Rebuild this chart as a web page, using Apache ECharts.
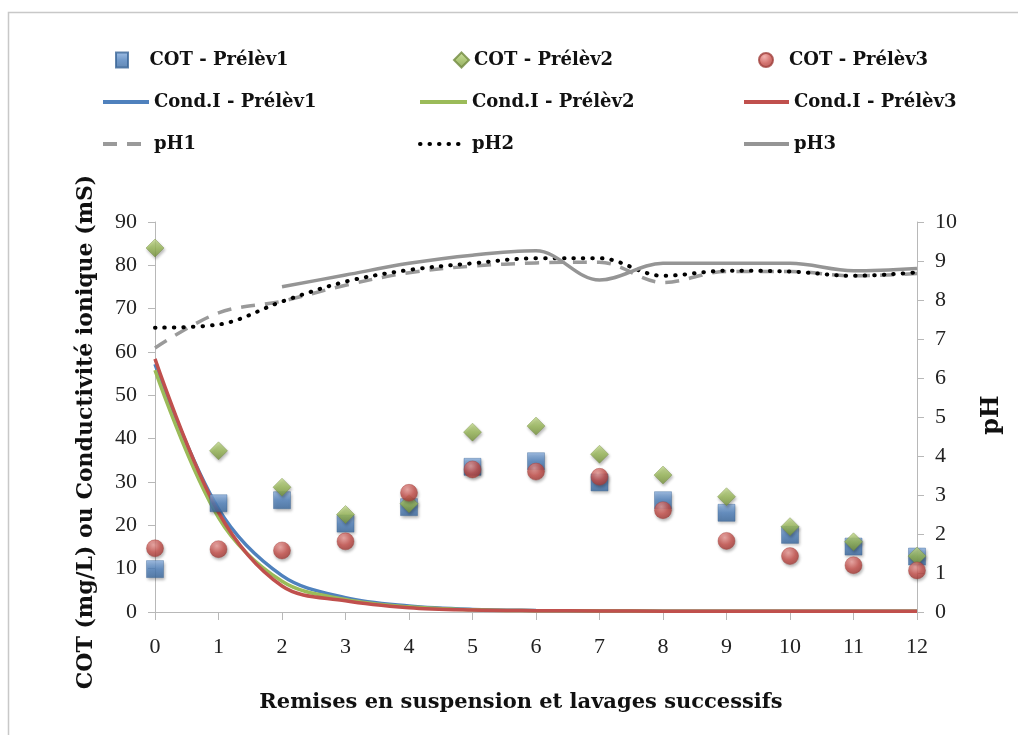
<!DOCTYPE html>
<html><head><meta charset="utf-8">
<script src="https://cdn.jsdelivr.net/npm/echarts@6/dist/echarts.min.js"></script>
<style>html,body{margin:0;padding:0;background:#fff}#c{width:1018px;height:735px}</style>
</head><body><div id="c"></div>
<script>
const xs = [0,1,2,3,4,5,6,7,8,9,10,11,12];
const cot1 = [9.9,25.1,25.8,20.4,24.2,33.5,34.8,29.9,25.8,22.9,17.8,15.1,12.8];
const cot2 = [84,37.2,28.8,22.5,25.0,41.5,42.9,36.4,31.6,26.6,19.7,16.2,12.9];
const cot3 = [14.7,14.5,14.2,16.3,27.5,32.9,32.4,31.2,23.5,16.4,12.9,10.8,9.6];
const cond1 = [57.2,23.8,8.4,3.3,1.4,0.6,0.35,0.25,0.2,0.2,0.2,0.2,0.2];
const cond2 = [55.8,21.8,7.1,2.9,1.2,0.5,0.3,0.25,0.2,0.2,0.2,0.2,0.2];
const cond3 = [58.4,23.0,6.0,2.6,1.0,0.45,0.3,0.25,0.2,0.2,0.2,0.2,0.2];
const ph1 = [6.77,7.67,7.97,8.38,8.70,8.87,8.95,8.97,8.45,8.73,8.73,8.62,8.68];
const ph2 = [7.29,7.37,7.96,8.47,8.77,8.94,9.07,9.07,8.62,8.75,8.73,8.62,8.71];
const ph3 = [null,null,8.34,8.64,8.94,9.15,9.26,8.51,8.94,8.94,8.94,8.75,8.81];
const leftTicks = {min:0,max:90,interval:10};
const rightTicks = {min:0,max:10,interval:1};
const names = ['COT - Prélèv1','COT - Prélèv2','COT - Prélèv3','Cond.I - Prélèv1','Cond.I - Prélèv2','Cond.I - Prélèv3','pH1','pH2','pH3'];
const xTitle = 'Remises en suspension et lavages successifs';
const yTitle = 'COT (mg/L) ou Conductivité ionique (mS)';
const y2Title = 'pH';

const pairs = arr => xs.map((x,i)=>[x,arr[i]]);
const serif = '"Liberation Serif","DejaVu Serif",serif';
const wide = '"DejaVu Serif",serif';
const lg = (c1,c2,c3)=>({type:'linear',x:0,y:0,x2:0,y2:1,colorStops:[{offset:0,color:c1},{offset:0.5,color:c2},{offset:1,color:c3}]});
const shadow = {shadowBlur:3,shadowColor:'rgba(0,0,0,0.35)',shadowOffsetX:1,shadowOffsetY:2};

const chart = echarts.init(document.getElementById('c'),null,{renderer:'canvas'});
// [name, left, centerY, itemWidth, icon]
const legendPos = [
  [names[0],115,62,45,'path://M0,0L8,0L8,10L0,10Z'],
  [names[1],453,62,15,'path://M5,0L10,5L5,10L0,5Z'],
  [names[2],758,62,36,'circle'],
  [names[3],101,104,46,null],[names[4],418,104,47,null],[names[5],742,104,45,null],
  [names[6],101,146,46,null],[names[7],418,146,47,null],[names[8],742,146,45,null]
];
const legends = legendPos.map(([n,l,y,w,icon])=>{
  const o = {
    data:[icon?{name:n,icon:icon}:n], left:l, top:y-11, itemWidth:w, itemHeight:icon==='circle'?14:15, itemGap:0,
    textStyle:{fontFamily:wide,fontWeight:'bold',fontSize:18,color:'#111'},
    selectedMode:false, padding:[0,0,0,0]
  };
  if(!icon){ o.itemStyle = {opacity:0}; o.lineStyle = {width:4}; }
  return o;
});
const lineSeries = (name,data,color,yi,extra)=>Object.assign({
  name, type:'line', data:pairs(data), yAxisIndex:yi, smooth:0.35, symbol:'none',
  lineStyle:{color,width:3.5}, itemStyle:{color}, connectNulls:false
},extra||{});

chart.setOption({
  animation:false,
  backgroundColor:'#fff',
  legend:legends,
  grid:{left:155,right:101,top:222,bottom:123},
  xAxis:{type:'value',min:0,max:12,interval:1,
    axisLine:{lineStyle:{color:'#b8b8b8',width:1}},
    axisTick:{show:true,length:8,lineStyle:{color:'#b8b8b8'}},
    axisLabel:{margin:24,fontFamily:serif,fontSize:22,color:'#222'},
    splitLine:{show:false}},
  yAxis:[
    {type:'value',min:leftTicks.min,max:leftTicks.max,interval:leftTicks.interval,position:'left',
      axisLine:{show:true,lineStyle:{color:'#b8b8b8'}},
      axisTick:{show:true,length:7,lineStyle:{color:'#b8b8b8'}},
      axisLabel:{margin:18,fontFamily:serif,fontSize:22,color:'#222'},
      splitLine:{show:false}},
    {type:'value',min:rightTicks.min,max:rightTicks.max,interval:rightTicks.interval,position:'right',
      axisLine:{show:true,lineStyle:{color:'#b8b8b8'}},
      axisTick:{show:true,length:7,lineStyle:{color:'#b8b8b8'}},
      axisLabel:{margin:18,fontFamily:serif,fontSize:22,color:'#222'},
      splitLine:{show:false}}
  ],
  graphic:[
    {type:'rect',shape:{x:8.5,y:12.5,width:1100,height:800},style:{fill:'none',stroke:'#c8c8c8',lineWidth:1.5},silent:true,z:-10},
    {type:'text',x:521,y:703,style:{text:xTitle,font:'bold 21px '+wide,fill:'#111',textAlign:'center',textVerticalAlign:'middle'}},
    {type:'text',x:86,y:432,rotation:Math.PI/2,style:{text:yTitle,font:'bold 22px '+wide,fill:'#111',textAlign:'center',textVerticalAlign:'middle'}},
    {type:'text',x:992,y:415,rotation:Math.PI/2,style:{text:y2Title,font:'bold 24px '+wide,fill:'#111',textAlign:'center',textVerticalAlign:'middle'}}
  ],
  series:[
    {name:names[0],type:'scatter',data:pairs(cot1),symbol:'rect',symbolSize:17,z:3,
      itemStyle:Object.assign({color:lg('#8db3e2','#4f81bd','#3b6aa0'),borderColor:'#3a6597',borderWidth:0.5},shadow)},
    {name:names[1],type:'scatter',data:pairs(cot2),symbol:'diamond',symbolSize:[18,18],z:4,
      itemStyle:Object.assign({color:lg('#c6dc8e','#9bbb59','#77933c'),borderColor:'#71893f',borderWidth:0.5},shadow)},
    {name:names[2],type:'scatter',data:pairs(cot3),symbol:'circle',symbolSize:17,z:5,
      itemStyle:Object.assign({color:{type:'radial',x:0.4,y:0.3,r:0.7,colorStops:[{offset:0,color:'#f0a09c'},{offset:0.6,color:'#c8504b'},{offset:1,color:'#a63c38'}]},borderColor:'#a0403c',borderWidth:0.5},shadow)},
    lineSeries(names[3],cond1,'#4f81bd',0),
    lineSeries(names[4],cond2,'#9bbb59',0),
    lineSeries(names[5],cond3,'#c0504d',0),
    lineSeries(names[6],ph1,'#9a9a9a',1,{lineStyle:{color:'#9a9a9a',width:3.5,type:[14,10]}}),
    lineSeries(names[7],ph2,'#000',1,{lineStyle:{color:'#000',width:4,type:[0.5,9],cap:'round'}}),
    lineSeries(names[8],ph3,'#959595',1,{lineStyle:{color:'#959595',width:3.5}})
  ]
});
</script></body></html>
